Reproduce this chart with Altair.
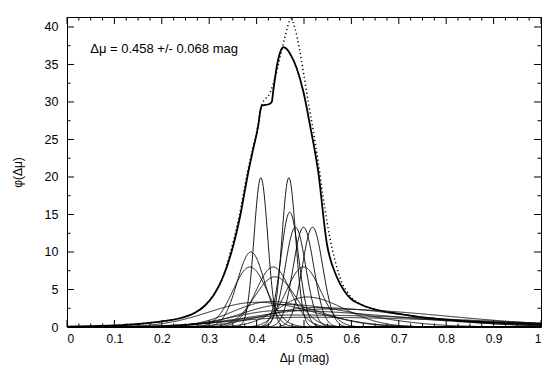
import altair as alt
import numpy as np
import pandas as pd

# ---- thin component curves:
# centre, peak height, left width, right width
comp_center = [0.409, 0.468, 0.470, 0.482, 0.499, 0.518, 0.388, 0.386, 0.435, 0.499,
               0.439, 0.505, 0.430, 0.400, 0.460, 0.520, 0.450, 0.550, 0.480, 0.500]
comp_peak = [19.9, 19.9, 15.3, 13.3, 13.3, 13.3, 10.0, 8.0, 8.0, 8.0,
             6.7, 4.0, 3.4, 3.3, 3.0, 2.6, 2.2, 2.4, 1.6, 1.3]
comp_width_left = [0.0144, 0.0144, 0.0188, 0.0216, 0.0216, 0.0216, 0.0287, 0.036, 0.036, 0.036,
                   0.043, 0.060, 0.080, 0.100, 0.090, 0.100, 0.100, 0.150, 0.120, 0.150]
comp_width_right = [0.0144, 0.0144, 0.0188, 0.0216, 0.0216, 0.0216, 0.0287, 0.036, 0.036, 0.036,
                    0.043, 0.080, 0.100, 0.120, 0.150, 0.200, 0.250, 0.250, 0.350, 0.350]

# ---- thick curve
sum_x = [0.00, 0.05, 0.10, 0.15, 0.20, 0.24, 0.27, 0.29, 0.31, 0.33, 0.347, 0.365,
         0.3826, 0.393, 0.4036, 0.408, 0.411, 0.418, 0.426, 0.432, 0.435, 0.442, 0.449,
         0.4564, 0.463, 0.470, 0.4846, 0.4986, 0.5127, 0.530, 0.548, 0.569, 0.585,
         0.600, 0.620, 0.653, 0.700, 0.760, 0.800, 0.850, 0.900, 0.950, 1.000]
sum_y = [0.05, 0.10, 0.20, 0.40, 0.75, 1.20, 1.90, 2.80, 4.30, 6.80, 10.0, 14.7,
         20.7, 23.8, 26.9, 28.9, 29.5, 29.6, 29.7, 30.0, 31.4, 34.5, 36.5,
         37.3, 37.1, 36.5, 34.5, 31.4, 26.9, 20.7, 11.2, 6.7, 4.8,
         3.7, 3.0, 2.3, 1.75, 1.20, 0.98, 0.75, 0.58, 0.45, 0.33]

# ---- dotted curve
dot_x = [0.00, 0.05, 0.10, 0.15, 0.20, 0.24, 0.27, 0.29, 0.31, 0.33, 0.345, 0.363,
         0.381, 0.392, 0.403, 0.411, 0.428, 0.439, 0.449, 0.460, 0.4726, 0.481,
         0.490, 0.4986, 0.509, 0.520, 0.530, 0.540, 0.550, 0.560, 0.570, 0.580,
         0.590, 0.600, 0.620, 0.653, 0.700, 0.760, 0.800, 0.850, 0.900, 0.950, 1.000]
dot_y = [0.05, 0.10, 0.20, 0.40, 0.75, 1.20, 1.90, 2.80, 4.30, 6.80, 10.0, 14.7,
         20.7, 23.8, 26.9, 29.6, 31.2, 33.2, 35.8, 38.7, 41.07, 39.8,
         37.2, 34.0, 30.0, 26.0, 22.0, 17.5, 13.5, 10.3, 7.8, 5.9,
         4.8, 3.9, 3.0, 2.3, 1.75, 1.20, 0.98, 0.75, 0.58, 0.45, 0.33]

x_major = [0, 0.1, 0.2, 0.3, 0.4, 0.5, 0.6, 0.7, 0.8, 0.9, 1]
x_minor = [round(0.025 * i, 3) for i in range(41) if i % 4 != 0]
y_major = [0, 5, 10, 15, 20, 25, 30, 35, 40]
y_minor = [2.5, 7.5, 12.5, 17.5, 22.5, 27.5, 32.5, 37.5]

note_text = ["Δμ = 0.458 +/- 0.068 mag"]
note_x = [0.049]
note_y = [37.1]

W, H = 474, 310
FONT = "Liberation Sans"
Y_MAX = 41.33

grid = np.linspace(0, 1, 1001)
rows = []
for i, (c, h, sl, sr) in enumerate(zip(comp_center, comp_peak, comp_width_left, comp_width_right)):
    s = np.where(grid < c, sl, sr)
    vals = h * np.exp(-0.5 * ((grid - c) / s) ** 2)
    for gx, gy in zip(grid, vals):
        rows.append({"id": i, "x": float(gx), "y": float(gy)})
comp_df = pd.DataFrame(rows)
sum_df = pd.DataFrame({"x": sum_x, "y": sum_y})
dot_df = pd.DataFrame({"x": dot_x, "y": dot_y})

xs = alt.Scale(domain=[0, 1], nice=False, zero=False)
ys = alt.Scale(domain=[0, Y_MAX], nice=False)

x_axis = alt.Axis(values=x_major, format=".1~f", ticks=False, domain=False, grid=False,
                  labelFont=FONT, labelFontSize=12, labelPadding=6, labelColor="black",
                  labelOverlap=False,
                  title="Δμ (mag)", titleFont=FONT, titleFontSize=12,
                  titleFontWeight="normal", titlePadding=8, titleColor="black")
y_axis = alt.Axis(values=y_major, ticks=False, domain=False, grid=False,
                  labelFont=FONT, labelFontSize=12.5, labelPadding=9, labelColor="black",
                  labelOverlap=False,
                  title="φ(Δμ)", titleFont=FONT, titleFontSize=12,
                  titleFontWeight="normal", titlePadding=20, titleColor="black")


def X(field):
    return alt.X(field, scale=xs, axis=x_axis)


def Y(field):
    return alt.Y(field, scale=ys, axis=y_axis)


comp = alt.Chart(comp_df).mark_line(color="black", strokeWidth=0.9, clip=True).encode(
    x=X("x:Q"), y=Y("y:Q"), detail="id:N")
thick = alt.Chart(sum_df).mark_line(color="black", strokeWidth=1.8, interpolate="monotone",
                                    clip=True).encode(x=X("x:Q"), y=Y("y:Q"))
dotted = alt.Chart(dot_df).mark_line(color="black", strokeWidth=1.5, strokeDash=[1.2, 2.8],
                                     interpolate="monotone", clip=True).encode(
    x=X("x:Q"), y=Y("y:Q"))

xmaj_df = pd.DataFrame({"v": x_major})
xmin_df = pd.DataFrame({"v": x_minor})
ymaj_df = pd.DataFrame({"v": y_major})
ymin_df = pd.DataFrame({"v": y_minor})


def xticks(df, length):
    b = alt.Chart(df).mark_rule(color="black", strokeWidth=1).encode(
        x=X("v:Q"), y=alt.value(H), y2=alt.value(H - length))
    t = alt.Chart(df).mark_rule(color="black", strokeWidth=1).encode(
        x=X("v:Q"), y=alt.value(0), y2=alt.value(length))
    return [b, t]


def yticks(df, length):
    l = alt.Chart(df).mark_rule(color="black", strokeWidth=1).encode(
        y=Y("v:Q"), x=alt.value(0), x2=alt.value(length))
    r = alt.Chart(df).mark_rule(color="black", strokeWidth=1).encode(
        y=Y("v:Q"), x=alt.value(W), x2=alt.value(W - length))
    return [l, r]


note = alt.Chart(pd.DataFrame({"t": note_text, "x": note_x, "y": note_y})).mark_text(
    align="left", baseline="middle", font=FONT, fontSize=13, color="black").encode(
    x=X("x:Q"), y=Y("y:Q"), text="t:N")

layers = [comp, dotted, thick]
layers += xticks(xmaj_df, 7) + xticks(xmin_df, 3.5)
layers += yticks(ymaj_df, 7) + yticks(ymin_df, 3.5)
layers += [note]

chart = alt.layer(*layers).properties(
    width=W, height=H,
    autosize=alt.AutoSizeParams(type="none"),
    padding={"left": 59, "top": 9, "right": 10, "bottom": 42},
    background="white",
).configure_view(stroke="black", strokeWidth=1)

chart.save("out.html", embed_options={"renderer": "svg", "actions": False})
